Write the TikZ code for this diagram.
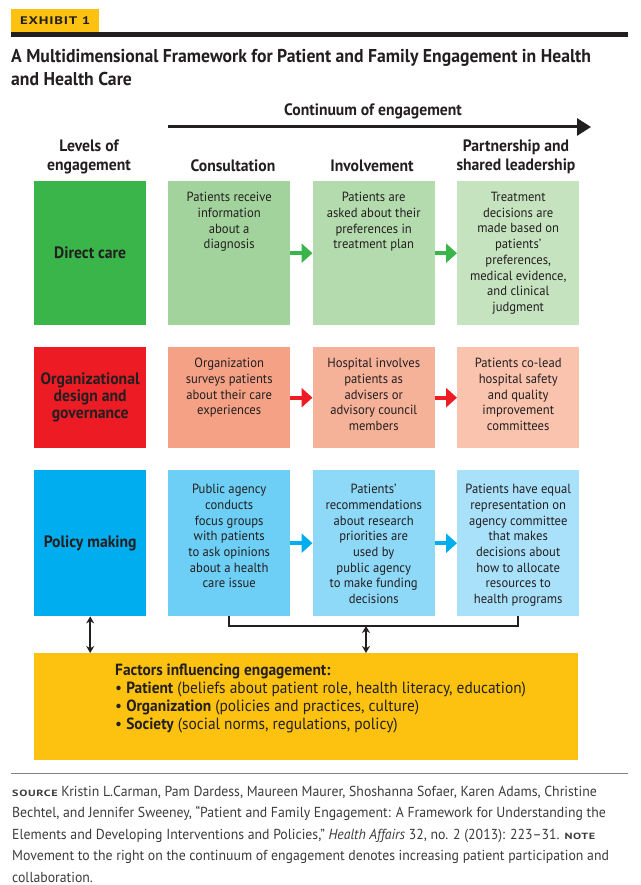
\documentclass[tikz,border=0pt]{standalone}
\usepackage{fontspec}
\setmainfont{PT Sans}[FakeStretch=0.95]
\newfontfamily\widefont{PT Sans}[FakeStretch=1.35,LetterSpace=7]
\usetikzlibrary{arrows.meta,positioning}

\definecolor{ink}{HTML}{231F20}
\definecolor{tagyellow}{HTML}{FDC20F}
\definecolor{dcdark}{HTML}{3AB54A}
\definecolor{dcA}{HTML}{A3D39C}
\definecolor{dcB}{HTML}{B3DBAD}
\definecolor{dcC}{HTML}{C5E3BF}
\definecolor{orgdark}{HTML}{ED1C24}
\definecolor{orgA}{HTML}{F4A185}
\definecolor{orgB}{HTML}{F6B199}
\definecolor{orgC}{HTML}{F9C3AE}
\definecolor{poldark}{HTML}{00AEEF}
\definecolor{polA}{HTML}{6DCFF6}
\definecolor{polB}{HTML}{8ED8F8}
\definecolor{polC}{HTML}{A9E1FA}
\definecolor{footgray}{HTML}{3C3C3C}

\tikzset{
  levelbox/.style={anchor=north west, inner sep=0pt, minimum width=112pt, align=center,
    text=ink, font=\bfseries\fontsize{16.5}{17}\selectfont},
  cellbox/.style={anchor=north west, inner sep=0pt, minimum width=122pt},
  celltext/.style={anchor=north, inner sep=0pt, align=center, text=ink,
    font=\fontsize{13.3}{15.7}\selectfont},
  headtext/.style={align=center, inner sep=0pt, text=ink, font=\bfseries\fontsize{16.5}{19}\selectfont},
  steparrow/.style={line width=4pt, -{Triangle[length=11pt,width=19pt]}},
  linkarrow/.style={ink, line width=2.2pt, {Stealth[length=7pt,width=8pt]}-{Stealth[length=7pt,width=8pt]}},
}

\begin{document}
\begin{tikzpicture}[x=1pt, y=-1pt]

  %% ════ header ════
  \node[anchor=north west, fill=tagyellow, minimum width=88pt, minimum height=23pt, inner sep=0pt,
    text=ink, font=\widefont\bfseries\fontsize{11}{11}\selectfont] (tag) at (11,9) {EXHIBIT 1};
  \fill[ink] (11,32) rectangle (628,37);
  \node[anchor=north west, align=left, inner sep=0pt, text=ink,
    font=\bfseries\fontsize{18.6}{23}\selectfont] (title) at (11,49)
    {A Multidimensional Framework for Patient and Family Engagement in Health\\and Health Care};

  %% ════ column heads ════
  \node[headtext] (cont) at (373,111) {Continuum of engagement};
  \coordinate (contL) at (168,127);
  \coordinate (contR) at (591,127);
  \draw[ink, line width=3pt, -{Triangle[length=14pt,width=17pt]}] (contL) -- (contR);

  \node[headtext] (lvlhead) at (89,156.5) {Levels of\\engagement};
  \node[headtext] (conshead) at (233,166) {Consultation};
  \node[headtext] (invhead) at (372,166) {Involvement};
  \node[headtext] (parthead) at (516,156.5) {Partnership and\\shared leadership};

  %% ════ row 1: direct care ════
  \node[levelbox, fill=dcdark, minimum height=144pt] (dcLvl) at (34,181) {Direct care};
  \node[cellbox, fill=dcA, minimum height=144pt] (dc1) at (168,181) {};
  \node[cellbox, fill=dcB, minimum height=144pt] (dc2) at (312.5,181) {};
  \node[cellbox, fill=dcC, minimum height=144pt] (dc3) at (457,181) {};
  \node[celltext, below=11pt of dc1.north] (dc1txt) {Patients receive\\information\\about a\\diagnosis};
  \node[celltext, below=11pt of dc2.north] (dc2txt) {Patients are\\asked about their\\preferences in\\treatment plan};
  \node[celltext, below=11pt of dc3.north] (dc3txt) {Treatment\\decisions are\\made based on\\patients’\\preferences,\\medical evidence,\\and clinical\\judgment};
  \draw[steparrow, dcdark] (dc1) -- (dc2);
  \draw[steparrow, dcdark] (dc2) -- (dc3);

  %% ════ row 2: organizational design ════
  \node[levelbox, fill=orgdark, minimum height=101pt] (orgLvl) at (34,347) {Organizational\\design and\\governance};
  \node[cellbox, fill=orgA, minimum height=101pt] (org1) at (168,347) {};
  \node[cellbox, fill=orgB, minimum height=101pt] (org2) at (312.5,347) {};
  \node[cellbox, fill=orgC, minimum height=101pt] (org3) at (457,347) {};
  \node[celltext, below=11pt of org1.north] (org1txt) {Organization\\surveys patients\\about their care\\experiences};
  \node[celltext, below=11pt of org2.north] (org2txt) {Hospital involves\\patients as\\advisers or\\advisory council\\members};
  \node[celltext, below=11pt of org3.north] (org3txt) {Patients co-lead\\hospital safety\\and quality\\improvement\\committees};
  \draw[steparrow, orgdark] (org1) -- (org2);
  \draw[steparrow, orgdark] (org2) -- (org3);

  %% ════ row 3: policy making ════
  \node[levelbox, fill=poldark, minimum height=146pt] (polLvl) at (34,470) {Policy making};
  \node[cellbox, fill=polA, minimum height=146pt] (pol1) at (168,470) {};
  \node[cellbox, fill=polB, minimum height=146pt] (pol2) at (312.5,470) {};
  \node[cellbox, fill=polC, minimum height=146pt] (pol3) at (457,470) {};
  \node[celltext, below=14pt of pol1.north] (pol1txt) {Public agency\\conducts\\focus groups\\with patients\\to ask opinions\\about a health\\care issue};
  \node[celltext, below=14pt of pol2.north] (pol2txt) {Patients’\\recommendations\\about research\\priorities are\\used by\\public agency\\to make funding\\decisions};
  \node[celltext, below=14pt of pol3.north] (pol3txt) {Patients have equal\\representation on\\agency committee\\that makes\\decisions about\\how to allocate\\resources to\\health programs};
  \draw[steparrow, poldark] (pol1) -- (pol2);
  \draw[steparrow, poldark] (pol2) -- (pol3);

  %% ════ factors ════
  \node[anchor=north west, fill=tagyellow, minimum width=544pt, minimum height=107pt, inner sep=0pt] (factors) at (34,653) {};
  \node[anchor=north west, align=left, inner sep=0pt, text=ink, font=\fontsize{16.2}{18}\selectfont] (factorstxt) at (115,664)
    {\textbf{Factors influencing engagement:}\\
     \textbullet\ \textbf{Patient} (beliefs about patient role, health literacy, education)\\
     \textbullet\ \textbf{Organization} (policies and practices, culture)\\
     \textbullet\ \textbf{Society} (social norms, regulations, policy)};

  \draw[ink, line width=2pt] (pol1.south) -- ++(0,10) -| (pol3.south);
  \coordinate (brkmid) at (366,626);
  \draw[linkarrow] (brkmid) -- (brkmid |- factors.north);
  \draw[linkarrow] (polLvl.south) -- (polLvl.south |- factors.north);

  %% ════ footer ════
  \draw[gray, line width=1pt] (11,773) -- (628,773);
  \node[anchor=north west, align=left, inner sep=0pt, text=footgray, font=\fontsize{14.5}{21.4}\selectfont] (source) at (12,786)
    {{\widefont\bfseries\fontsize{9}{9}\selectfont SOURCE} Kristin L.Carman, Pam Dardess, Maureen Maurer, Shoshanna Sofaer, Karen Adams, Christine\\
     Bechtel, and Jennifer Sweeney, “Patient and Family Engagement: A Framework for Understanding the\\
     Elements and Developing Interventions and Policies,” \textit{Health Affairs} 32, no. 2 (2013): 223–31. {\widefont\bfseries\fontsize{9}{9}\selectfont NOTE}\\
     Movement to the right on the continuum of engagement denotes increasing patient participation and\\
     collaboration.};

  \pgfresetboundingbox
  \path[use as bounding box] (0,0) rectangle (640,885);
\end{tikzpicture}
\end{document}
